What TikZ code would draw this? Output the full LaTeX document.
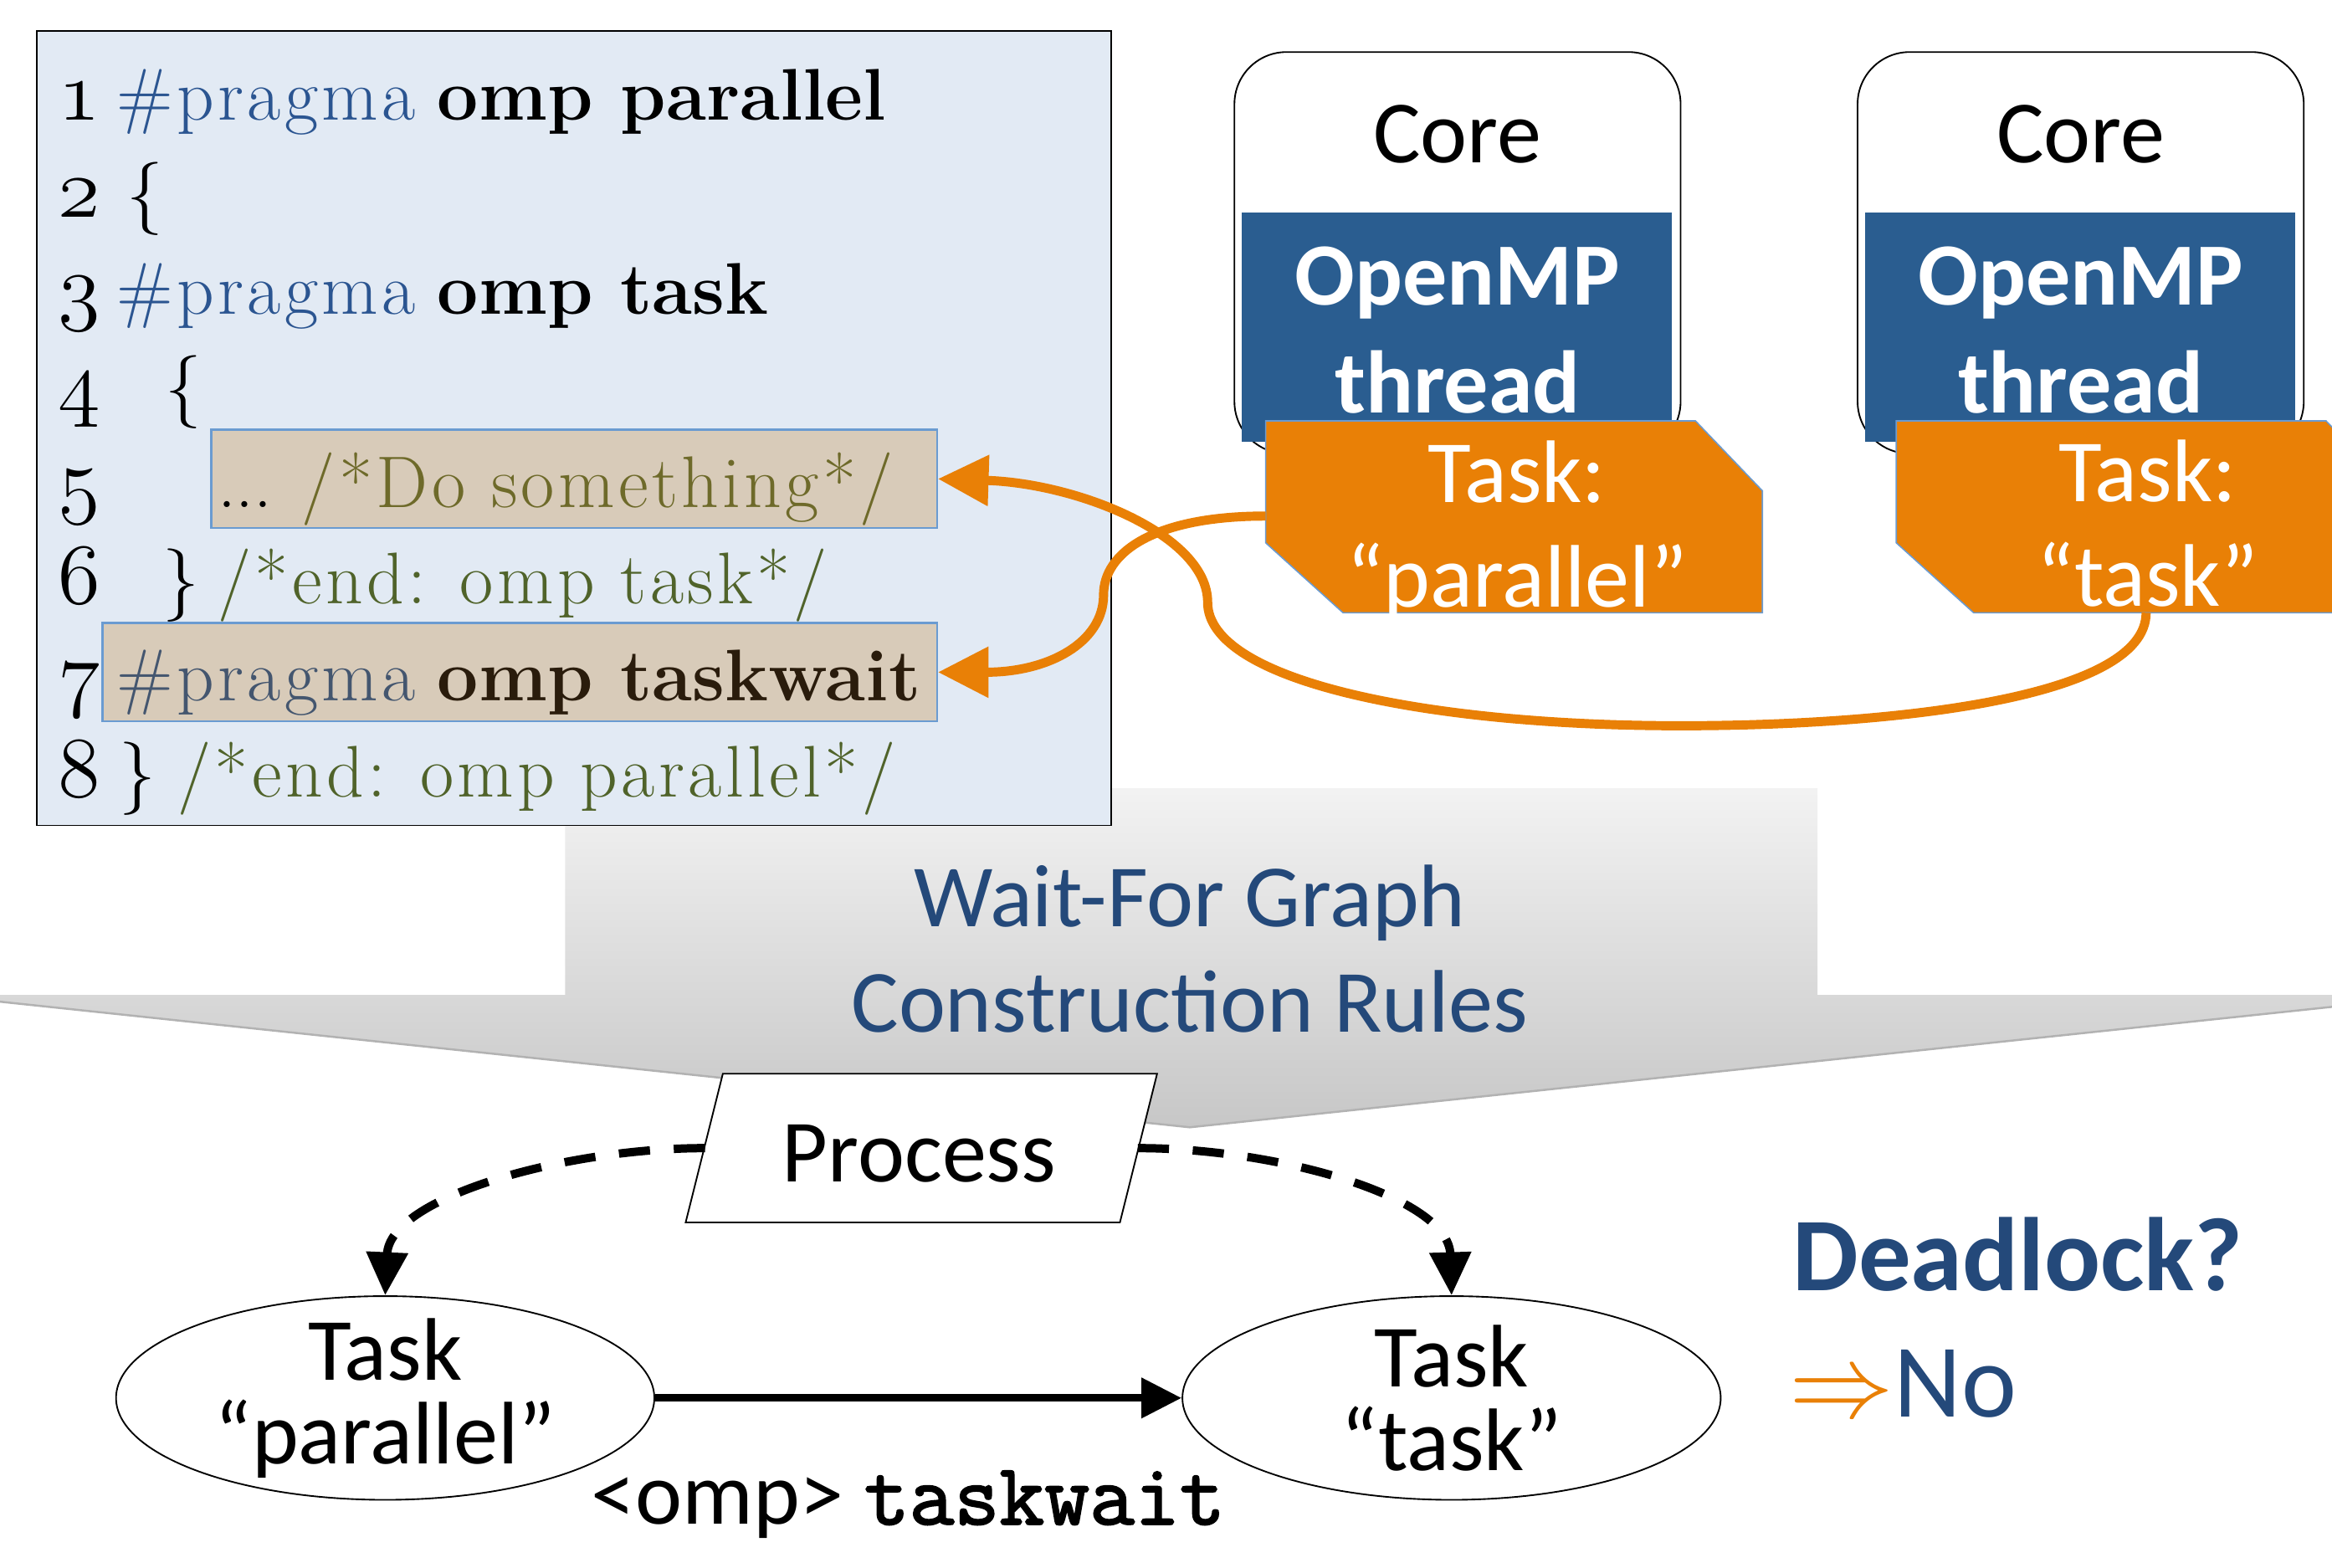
\documentclass[tikz,border=0pt]{standalone}
\usepackage{fix-cm}
\usepackage{fontspec}
\setmainfont{Latin Modern Roman}
\newfontfamily\calibri{Carlito}
\newfontfamily\typewr[FakeBold=2]{Latin Modern Mono}
\usetikzlibrary{positioning,fit,shapes.geometric,arrows.meta}

\newcommand\osnum[1]{{\fontsize{33}{33}\usefont{OML}{cmm}{m}{it}#1}}
\newcommand\wide[1]{{\addfontfeature{LetterSpace=5}#1}}

\definecolor{codebg}{HTML}{E2EAF4}
\definecolor{hlfill}{HTML}{D8CBB9}
\definecolor{hledge}{HTML}{6A9BD1}
\definecolor{kwblue}{HTML}{2B5591}
\definecolor{cmtgreen}{HTML}{50632A}
\definecolor{olivecmt}{HTML}{6E6A2A}
\definecolor{slate}{HTML}{44566F}
\definecolor{darkbrown}{HTML}{2A1C0C}
\definecolor{threadblue}{HTML}{2A5D90}
\definecolor{taskorange}{HTML}{E98006}
\definecolor{rulesblue}{HTML}{24497A}

\tikzset{
  cal/.style={font=\calibri\fontsize{34}{40}\selectfont},
  code/.style={anchor=base west, inner sep=0pt, font=\fontsize{28}{34}\selectfont},
  hlbox/.style={fill=hlfill, draw=hledge, line width=0.8pt, inner sep=0pt},
  corebox/.style={draw, line width=0.6pt, rounded corners=0.7cm, inner sep=0pt},
  thrbox/.style={fill=threadblue, inner sep=0pt},
  taskshape/.style={fill=taskorange, draw=hledge, line width=0.5pt},
  tasktext/.style={cal, text=white, align=center, inner sep=0pt},
  wfnode/.style={draw, ellipse, fill=white, minimum width=7.24cm, minimum height=2.74cm,
    inner sep=0pt, line width=0.6pt},
  wftext/.style={align=center, inner sep=0pt, font=\calibri\fontsize{34}{32}\selectfont},
  orangearrow/.style={draw=taskorange, line width=3.5pt, -{Triangle[length=0.68cm,width=0.66cm]}},
  dasharrow/.style={line width=3.2pt, dash pattern=on 0.42cm off 0.32cm, -{Triangle[length=0.58cm,width=0.54cm]}},
  solidarrow/.style={line width=3pt, -{Triangle[length=0.54cm,width=0.52cm]}},
}

\begin{document}
\begin{tikzpicture}[x=0.02cm, y=0.02cm]
\useasboundingbox (0,0) rectangle (1568,-1054);
\clip (0,0) rectangle (1568,-1054);

\shade[top color=black!5, bottom color=black!22]
  (380,-530) -- (1222,-530) -- (1222,-669) -- (1644,-669) -- (800,-758)
  -- (-43,-669) -- (380,-669) -- cycle;
\draw[black!30, line width=0.8pt] (-43,-669) -- (800,-758) -- (1644,-669);
\node[cal, text=rulesblue, align=center, font=\calibri\fontsize{34}{40.5}\selectfont]
  (rules) at (800,-638) {Wait-For Graph\\Construction Rules};

\node[fill=codebg, draw, line width=0.6pt, inner sep=0pt, fit={(25,-21) (747,-555)}] (code) {};
\node[hlbox, fit={(142,-289) (630,-355)}] (hl5) {};
\node[hlbox, fit={(69,-419) (630,-485)}] (hl7) {};

\foreach \n in {1,...,8}
  \node[code] (num\n) at (39,{-16-65*\n}) {\osnum{\n}};
\node[code] (l1) at (78,-81) {\textcolor{kwblue}{\wide{\#pragma}} \textbf{omp parallel}};
\node[code] (l2) at (85,-146) {\{};
\node[code] (l3) at (78,-211) {\textcolor{kwblue}{\wide{\#pragma}} \textbf{omp task}};
\node[code] (l4) at (111,-276) {\{};
\node[code] (l5) at (146,-341) {... \textcolor{olivecmt}{\wide{/*Do something*/}}};
\node[code] (l6) at (109,-406) {\}};
\node[code] (l6c) at (146,-406) {\textcolor{cmtgreen}{\wide{/*end: omp task*/}}};
\node[code] (l7) at (78,-471) {\textcolor{slate}{\wide{\#pragma}} \textcolor{darkbrown}{\textbf{omp taskwait}}};
\node[code] (l8) at (80,-536) {\}};
\node[code] (l8c) at (119,-536) {\textcolor{cmtgreen}{\wide{/*end: omp parallel*/}}};

\node[corebox, fit={(830,-35) (1130,-305)}] (core1) {};
\node[corebox, fit={(1249,-35) (1549,-305)}] (core2) {};
\node[cal] (core1lbl) at (980,-90) {Core};
\node[cal] (core2lbl) at (1399,-90) {Core};
\node[thrbox, fit={(835,-143) (1124,-297)}] (thr1) {};
\node[thrbox, fit={(1254,-143) (1543,-297)}] (thr2) {};
\node[cal, text=white, align=center, font=\calibri\bfseries\fontsize{34}{41}\selectfont]
  (thr1lbl) at (980,-222) {OpenMP\\thread};
\node[cal, text=white, align=center, font=\calibri\bfseries\fontsize{34}{41}\selectfont]
  (thr2lbl) at (1399,-222) {OpenMP\\thread};

\draw[taskshape] (851,-283) -- (1140,-283) -- (1185,-330) -- (1185,-412)
  -- (903,-412) -- (851,-365) -- cycle;
\draw[taskshape] (1275,-283) -- (1564,-283) -- (1609,-330) -- (1609,-412)
  -- (1327,-412) -- (1275,-365) -- cycle;
\node[tasktext] (tpar) at (1020,-357) {Task:\\“parallel”};
\node[tasktext] (ttask) at (1444,-352) {Task:\\“task”};
\coordinate (tparW) at (851,-347);
\coordinate (ttaskS) at (1443,-412);

\draw[orangearrow] (ttaskS) .. controls (1443,-470) and (1270,-488) .. (1130,-488)
  .. controls (960,-488) and (812,-458) .. (812,-405)
  .. controls (812,-360) and (725,-325) .. (hl5.east);
\draw[orangearrow] (tparW) .. controls (775,-347) and (742,-372) .. (742,-400)
  .. controls (742,-432) and (705,-452) .. (hl7.east);

\draw[fill=white, line width=0.6pt] (486,-722) -- (778,-722) -- (753,-822) -- (461,-822) -- cycle;
\node[cal] (proc) at (618,-776) {Process};
\coordinate (procW) at (474,-772);
\coordinate (procE) at (765,-772);

\node[wfnode, label={[wftext]center:{Task\\“parallel”}}] (wpar) at (259,-940) {};
\node[wfnode, label={[wftext]center:{Task\\“task”}}] (wtask) at (976,-940) {};

\draw[dasharrow] (procW) .. controls (380,-772) and (262,-805) .. (wpar.north);
\draw[dasharrow] (procE) .. controls (860,-772) and (974,-805) .. (wtask.north);
\draw[solidarrow] (wpar) -- (wtask)
  node[midway, anchor=base, yshift=-1.7cm, xshift=-0.14cm, inner sep=0pt, cal] (twlbl)
  {<omp> {\typewr\fontsize{33.5}{40}\selectfont taskwait}};

\node[anchor=base west, inner sep=0pt, text=rulesblue,
  font=\calibri\bfseries\fontsize{40}{48}\selectfont] (dl) at (1205,-868) {Deadlock?};
\node[anchor=base west, inner sep=0pt, text=rulesblue,
  font=\calibri\fontsize{40}{48}\selectfont] (ans) at (1203,-953)
  {\textcolor{taskorange}{$\Rightarrow$}No};
\end{tikzpicture}
\end{document}
